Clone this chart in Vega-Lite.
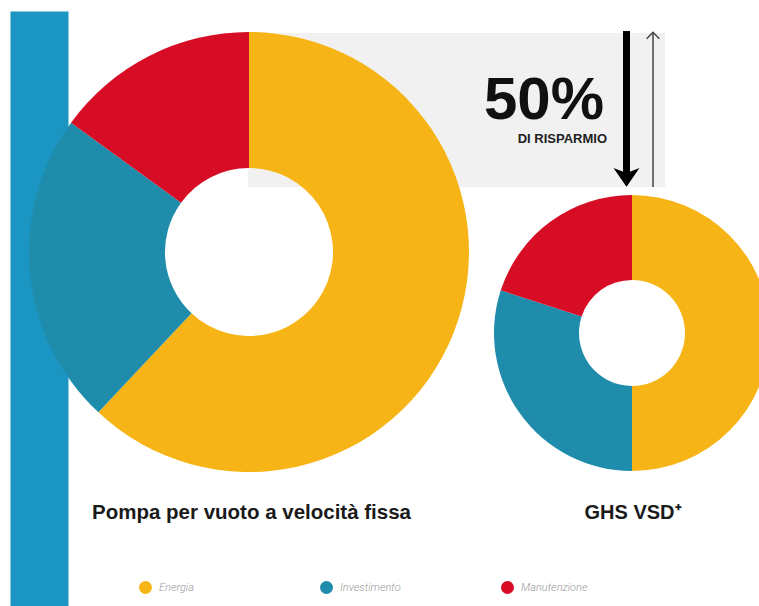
{
  "$schema": "https://vega.github.io/schema/vega-lite/v6.json",
  "autosize": {"type": "none"},
  "width": 759,
  "height": 606,
  "padding": 0,
  "background": "white",
  "config": {"view": {"stroke": null}},
  "datasets": {
    "costi": [
      {"pompa": "Pompa per vuoto a velocità fissa", "componente": "Energia", "quota": 62},
      {"pompa": "Pompa per vuoto a velocità fissa", "componente": "Investimento", "quota": 23},
      {"pompa": "Pompa per vuoto a velocità fissa", "componente": "Manutenzione", "quota": 15},
      {"pompa": "GHS VSD⁺", "componente": "Energia", "quota": 50},
      {"pompa": "GHS VSD⁺", "componente": "Investimento", "quota": 30},
      {"pompa": "GHS VSD⁺", "componente": "Manutenzione", "quota": 20}
    ],
    "uno": [{"k": 1}]
  },
  "layer": [
    {
      "data": {"name": "uno"},
      "mark": {"type": "rect", "color": "#f1f1f1"},
      "encoding": {
        "x": {"datum": 248, "type": "quantitative", "scale": {"domain": [0, 759], "nice": false, "zero": false}, "axis": null},
        "x2": {"datum": 665},
        "y": {"datum": 33, "type": "quantitative", "scale": {"domain": [0, 606], "nice": false, "zero": false, "reverse": true}, "axis": null},
        "y2": {"datum": 187}
      }
    },
    {
      "data": {"name": "uno"},
      "mark": {"type": "rect", "color": "#1b95c2"},
      "encoding": {
        "x": {"datum": 10.5, "type": "quantitative", "scale": {"domain": [0, 759], "nice": false, "zero": false}, "axis": null},
        "x2": {"datum": 68.5},
        "y": {"datum": 11.5, "type": "quantitative", "scale": {"domain": [0, 606], "nice": false, "zero": false, "reverse": true}, "axis": null},
        "y2": {"datum": 606}
      }
    },
    {
      "data": {"name": "costi"},
      "transform": [{"filter": "datum.pompa === 'Pompa per vuoto a velocità fissa'"}],
      "mark": {"type": "arc", "outerRadius": 220, "innerRadius": 84},
      "encoding": {
        "x": {"datum": 249, "type": "quantitative", "scale": {"domain": [0, 759], "nice": false, "zero": false}, "axis": null},
        "y": {"datum": 252, "type": "quantitative", "scale": {"domain": [0, 606], "nice": false, "zero": false, "reverse": true}, "axis": null},
        "theta": {"field": "quota", "type": "quantitative", "stack": true},
        "color": {
          "field": "componente",
          "type": "nominal",
          "scale": {"domain": ["Energia", "Investimento", "Manutenzione"], "range": ["#f7b416", "#1f8cab", "#d60d25"]},
          "legend": {
            "orient": "none",
            "legendX": 139,
            "legendY": 581,
            "direction": "horizontal",
            "title": null,
            "symbolType": "circle",
            "symbolSize": 169,
            "symbolStrokeWidth": 0,
            "labelFont": "Roboto",
            "labelFontStyle": "italic",
            "labelFontWeight": 300,
            "labelFontSize": 11,
            "labelColor": "#999999",
            "labelOffset": 7,
            "gridAlign": "all",
            "columnPadding": 94
          }
        }
      }
    },
    {
      "data": {"name": "costi"},
      "transform": [{"filter": "datum.pompa === 'GHS VSD⁺'"}],
      "mark": {"type": "arc", "outerRadius": 138, "innerRadius": 53},
      "encoding": {
        "x": {"datum": 632, "type": "quantitative", "scale": {"domain": [0, 759], "nice": false, "zero": false}, "axis": null},
        "y": {"datum": 333, "type": "quantitative", "scale": {"domain": [0, 606], "nice": false, "zero": false, "reverse": true}, "axis": null},
        "theta": {"field": "quota", "type": "quantitative", "stack": true},
        "color": {"field": "componente", "type": "nominal"}
      }
    },
    {
      "data": {"name": "uno"},
      "mark": {"type": "text", "text": "Pompa per vuoto a velocità fissa", "font": "Liberation Sans", "fontWeight": "bold", "fontSize": 20.5, "color": "#1a1a1a", "align": "center", "baseline": "alphabetic"},
      "encoding": {
        "x": {"datum": 251.5, "type": "quantitative", "scale": {"domain": [0, 759], "nice": false, "zero": false}, "axis": null},
        "y": {"datum": 519, "type": "quantitative", "scale": {"domain": [0, 606], "nice": false, "zero": false, "reverse": true}, "axis": null}
      }
    },
    {
      "data": {"name": "uno"},
      "mark": {"type": "text", "text": "GHS VSD⁺", "font": "Liberation Sans", "fontWeight": "bold", "fontSize": 20, "color": "#1a1a1a", "align": "center", "baseline": "alphabetic"},
      "encoding": {
        "x": {"datum": 633, "type": "quantitative", "scale": {"domain": [0, 759], "nice": false, "zero": false}, "axis": null},
        "y": {"datum": 519, "type": "quantitative", "scale": {"domain": [0, 606], "nice": false, "zero": false, "reverse": true}, "axis": null}
      }
    },
    {
      "data": {"name": "uno"},
      "mark": {"type": "text", "text": "50%", "font": "Liberation Sans", "fontWeight": "bold", "fontSize": 60, "color": "#111111", "align": "right", "baseline": "alphabetic", "letterSpacing": -1},
      "encoding": {
        "x": {"datum": 604, "type": "quantitative", "scale": {"domain": [0, 759], "nice": false, "zero": false}, "axis": null},
        "y": {"datum": 119, "type": "quantitative", "scale": {"domain": [0, 606], "nice": false, "zero": false, "reverse": true}, "axis": null}
      }
    },
    {
      "data": {"name": "uno"},
      "mark": {"type": "text", "text": "DI RISPARMIO", "font": "Liberation Sans", "fontWeight": "bold", "fontSize": 13, "color": "#222222", "align": "right", "baseline": "alphabetic", "letterSpacing": 0},
      "encoding": {
        "x": {"datum": 607, "type": "quantitative", "scale": {"domain": [0, 759], "nice": false, "zero": false}, "axis": null},
        "y": {"datum": 143, "type": "quantitative", "scale": {"domain": [0, 606], "nice": false, "zero": false, "reverse": true}, "axis": null}
      }
    },
    {
      "data": {"name": "uno"},
      "mark": {"type": "rule", "color": "#000000", "strokeWidth": 7},
      "encoding": {
        "x": {"datum": 626.5, "type": "quantitative", "scale": {"domain": [0, 759], "nice": false, "zero": false}, "axis": null},
        "y": {"datum": 31, "type": "quantitative", "scale": {"domain": [0, 606], "nice": false, "zero": false, "reverse": true}, "axis": null},
        "y2": {"datum": 176}
      }
    },
    {
      "data": {"name": "uno"},
      "mark": {"type": "point", "shape": "M-1,-0.7L0,0.75L1,-0.7L0,-0.3Z", "filled": true, "color": "#000000", "opacity": 1, "size": 676, "strokeWidth": 0},
      "encoding": {
        "x": {"datum": 626.5, "type": "quantitative", "scale": {"domain": [0, 759], "nice": false, "zero": false}, "axis": null},
        "y": {"datum": 177, "type": "quantitative", "scale": {"domain": [0, 606], "nice": false, "zero": false, "reverse": true}, "axis": null}
      }
    },
    {
      "data": {"name": "uno"},
      "mark": {"type": "rule", "color": "#444444", "strokeWidth": 1.5},
      "encoding": {
        "x": {"datum": 653, "type": "quantitative", "scale": {"domain": [0, 759], "nice": false, "zero": false}, "axis": null},
        "y": {"datum": 32, "type": "quantitative", "scale": {"domain": [0, 606], "nice": false, "zero": false, "reverse": true}, "axis": null},
        "y2": {"datum": 187}
      }
    },
    {
      "data": {"name": "uno"},
      "mark": {"type": "point", "shape": "M-1,0.5L0,-0.5L1,0.5", "filled": false, "color": "#444444", "opacity": 1, "size": 160, "strokeWidth": 1.5},
      "encoding": {
        "x": {"datum": 653, "type": "quantitative", "scale": {"domain": [0, 759], "nice": false, "zero": false}, "axis": null},
        "y": {"datum": 35.5, "type": "quantitative", "scale": {"domain": [0, 606], "nice": false, "zero": false, "reverse": true}, "axis": null}
      }
    }
  ]
}
